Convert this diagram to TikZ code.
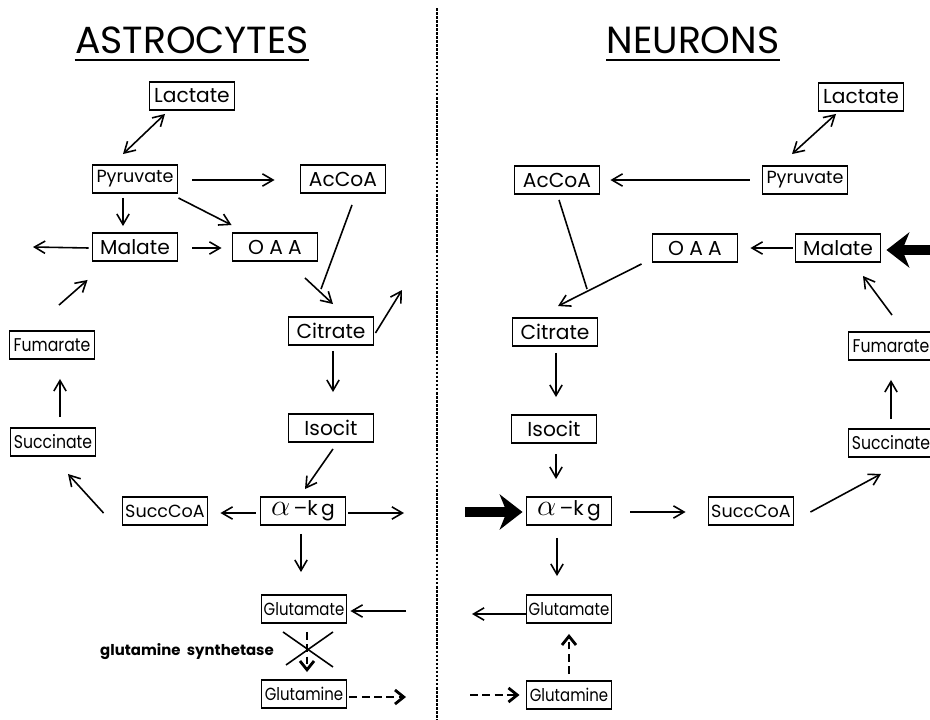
\documentclass[tikz,border=0pt]{standalone}
\usepackage{fontspec}
\setmainfont{Poppins}
\newfontfamily\condfont{Poppins}[FakeStretch=0.85]
\usetikzlibrary{arrows.meta, calc}

\newcommand{\akg}{{\fontsize{17}{17}\selectfont$\alpha$}\,--k\,g}

\begin{document}
\begin{tikzpicture}[
    x=0.02cm, y=-0.02cm,
    met/.style={draw, line width=1.1pt, minimum width=1.7cm, minimum height=0.56cm, inner sep=0pt, font=\fontsize{11.5}{13}\selectfont},
    metsm/.style={met, font=\fontsize{10}{12}\selectfont},
    metcd/.style={met, font=\condfont\fontsize{10.5}{12}\selectfont},
    arrow/.style={-{Straight Barb[length=6pt, width=7pt]}, line width=0.9pt},
    biarrow/.style={{Straight Barb[length=6pt, width=7pt]}-{Straight Barb[length=6pt, width=7pt]}, line width=0.9pt},
    bigarrow/.style={-{Stealth[length=13pt, width=20pt, inset=4pt]}, line width=5.5pt},
    dasharrow/.style={-{Straight Barb[length=5pt, width=8pt]}, line width=1.6pt, dash pattern=on 4.5pt off 2.5pt},
    heading/.style={inner sep=0pt, font=\fontsize{21.5}{25}\selectfont}
]
    \useasboundingbox (0,0) rectangle (930,720);

    % Dividing line
    \coordinate (divtop) at (437,8);
    \coordinate (divbot) at (437,720);
    \draw[line width=1.5pt, dash pattern=on 1.5pt off 0.8pt] (divtop) -- (divbot);

    % Titles
    \node[heading] (ttlL) at (192,40) {ASTROCYTES};
    \node[heading] (ttlR) at (693,40) {NEURONS};
    \draw[line width=0.9pt] ($(ttlL.south west)+(0,6)$) -- ($(ttlL.south east)+(0,6)$);
    \draw[line width=0.9pt] ($(ttlR.south west)+(0,6)$) -- ($(ttlR.south east)+(0,6)$);

    % Astrocytes
    \node[met] (lacL) at (192,96) {Lactate};
    \node[metsm] (pyrL) at (135,179) {Pyruvate};
    \node[met] (acoL) at (343,179) {AcCoA};
    \node[met] (malL) at (135,247) {Malate};
    \node[met] (oaaL) at (275,247) {O\hspace{3pt}A\hspace{3pt}A};
    \node[metcd] (fumL) at (52,345) {Fumarate};
    \node[met] (citL) at (331,331) {Citrate};
    \node[met] (isoL) at (331,428) {Isocit};
    \node[met] (akgL) at (303,511) {\akg};
    \node[metsm] (scoL) at (165,511) {SuccCoA};
    \node[metcd] (sucL) at (53,442) {Succinate};
    \node[metcd, font=\condfont\fontsize{10}{12}\selectfont] (gluL) at (304,609) {Glutamate};
    \node[metcd, font=\condfont\fontsize{10}{12}\selectfont] (glnL) at (304,694) {Glutamine};

    \coordinate (malLout) at (33,247);
    \coordinate (citLout) at (402,290);
    \coordinate (akgLout) at (404,513);
    \coordinate (gluLin) at (406,611);
    \coordinate (glnLout) at (406,697);

    \draw[biarrow] ($(lacL.south)+(-27,3)$) -- ($(pyrL.north)+(-12,-10)$);
    \draw[arrow] ($(pyrL.east)+(14,1)$) -- ($(acoL.west)+(-25,1)$);
    \draw[arrow] ($(pyrL.south)+(-12,4)$) -- ($(malL.north)+(-12,-6)$);
    \draw[arrow] ($(pyrL.south east)+(0,4)$) -- ($(oaaL.north west)+(0,-7)$);
    \draw[arrow] ($(malL.west)+(-3,1)$) -- (malLout);
    \draw[arrow] ($(malL.east)+(14,1)$) -- ($(oaaL.west)+(-10,1)$);
    \draw[arrow] ($(fumL.north)+(7,-25)$) -- ($(malL.south west)+(-4,18)$);
    \draw[line width=0.9pt] ($(acoL.south)+(9,11)$) -- ($(citL.north)+(-10,-27)$);
    \draw[arrow] ($(oaaL.south)+(30,16)$) -- ($(citL.north)+(2,-12)$);
    \draw[arrow] ($(citL.east)+(1,2)$) -- (citLout);
    \draw[arrow] ($(citL.south)+(2,5)$) -- ($(isoL.north)+(2,-21)$);
    \draw[arrow] ($(isoL.south)+(2,6)$) -- ($(akgL.north)+(2,-7)$);
    \draw[arrow] ($(akgL.west)+(-4,2)$) -- ($(scoL.east)+(12,2)$);
    \draw[arrow] ($(akgL.east)+(2,2)$) -- (akgLout);
    \draw[arrow] ($(scoL.west)+(-18,2)$) -- ($(sucL.south)+(15,17)$);
    \draw[arrow] ($(sucL.north)+(7,-10)$) -- ($(fumL.south)+(8,19)$);
    \draw[arrow] ($(akgL.south)+(-2,8)$) -- ($(gluL.north)+(-3,-22)$);
    \draw[arrow] (gluLin) -- ($(gluL.east)+(3,2)$);
    \draw[dasharrow] ($(glnL.east)+(2,3)$) -- (glnLout);
    \draw[dasharrow] ($(gluL.south)+(3,8)$) -- ($(glnL.north)+(3,-7)$);

    % blocked enzyme
    \draw[line width=0.9pt] ($(gluL.south)+(-21,8)$) -- ($(gluL.south)+(29,43)$);
    \draw[line width=0.9pt] ($(gluL.south)+(29,8)$) -- ($(gluL.south)+(-18,41)$);
    \node[font=\fontsize{8.5}{10}\selectfont\bfseries] (gsyn) at (187,652) {glutamine\ \ synthetase};

    % Neurons
    \node[met] (lacR) at (861,97) {Lactate};
    \node[metsm] (pyrR) at (805,180) {Pyruvate};
    \node[met] (acoR) at (557,180) {AcCoA};
    \node[met] (oaaR) at (695,248) {O\hspace{3pt}A\hspace{3pt}A};
    \node[met] (malR) at (838,248) {Malate};
    \node[metcd] (fumR) at (891,346) {Fumarate};
    \node[met] (citR) at (555,332) {Citrate};
    \node[met] (isoR) at (554,429) {Isocit};
    \node[met] (akgR) at (569,511) {\akg};
    \node[metsm] (scoR) at (751,511) {SuccCoA};
    \node[metcd] (sucR) at (891,443) {Succinate};
    \node[metcd, font=\condfont\fontsize{10}{12}\selectfont] (gluR) at (569,609) {Glutamate};
    \node[metcd, font=\condfont\fontsize{10}{12}\selectfont] (glnR) at (569,695) {Glutamine};

    \coordinate (malRin) at (930,250);
    \coordinate (akgRin) at (465,512);
    \coordinate (gluRout) at (472,614);
    \coordinate (glnRin) at (470,695);

    \draw[biarrow] ($(lacR.south)+(-25,2)$) -- ($(pyrR.north)+(-13,-11)$);
    \draw[arrow] ($(pyrR.west)+(-12,0)$) -- ($(acoR.east)+(10,0)$);
    \draw[arrow] ($(malR.west)+(-2,0)$) -- ($(oaaR.east)+(12,0)$);
    \draw[bigarrow] (malRin) -- ($(malR.east)+(5,2)$);
    \draw[arrow] ($(fumR.north)+(1,-16)$) -- ($(malR.south)+(25,13)$);
    \draw[line width=0.9pt] ($(acoR.south)+(2,5)$) -- ($(citR.north)+(32,-28)$);
    \draw[arrow] ($(oaaR.south west)+(-10,1)$) -- ($(citR.north)+(3,-11)$);
    \draw[arrow] ($(citR.south)+(1,6)$) -- ($(isoR.north)+(2,-17)$);
    \draw[arrow] ($(isoR.south)+(2,10)$) -- ($(akgR.north)+(-13,-17)$);
    \draw[bigarrow] (akgRin) -- ($(akgR.west)+(-3,1)$);
    \draw[arrow] ($(akgR.east)+(18,1)$) -- ($(scoR.west)+(-22,1)$);
    \draw[arrow] ($(scoR.east)+(16,1)$) -- ($(sucR.south)+(-10,16)$);
    \draw[arrow] ($(sucR.north)+(0,-9)$) -- ($(fumR.south)+(0,19)$);
    \draw[arrow] ($(akgR.south)+(-12,12)$) -- ($(gluR.north)+(-12,-18)$);
    \draw[arrow] ($(gluR.west)+(0,5)$) -- (gluRout);
    \draw[dasharrow] (glnRin) -- ($(glnR.west)+(-6,0)$);
    \draw[dasharrow] ($(glnR.north)+(0,-6)$) -- ($(gluR.south)+(0,10)$);
\end{tikzpicture}
\end{document}
